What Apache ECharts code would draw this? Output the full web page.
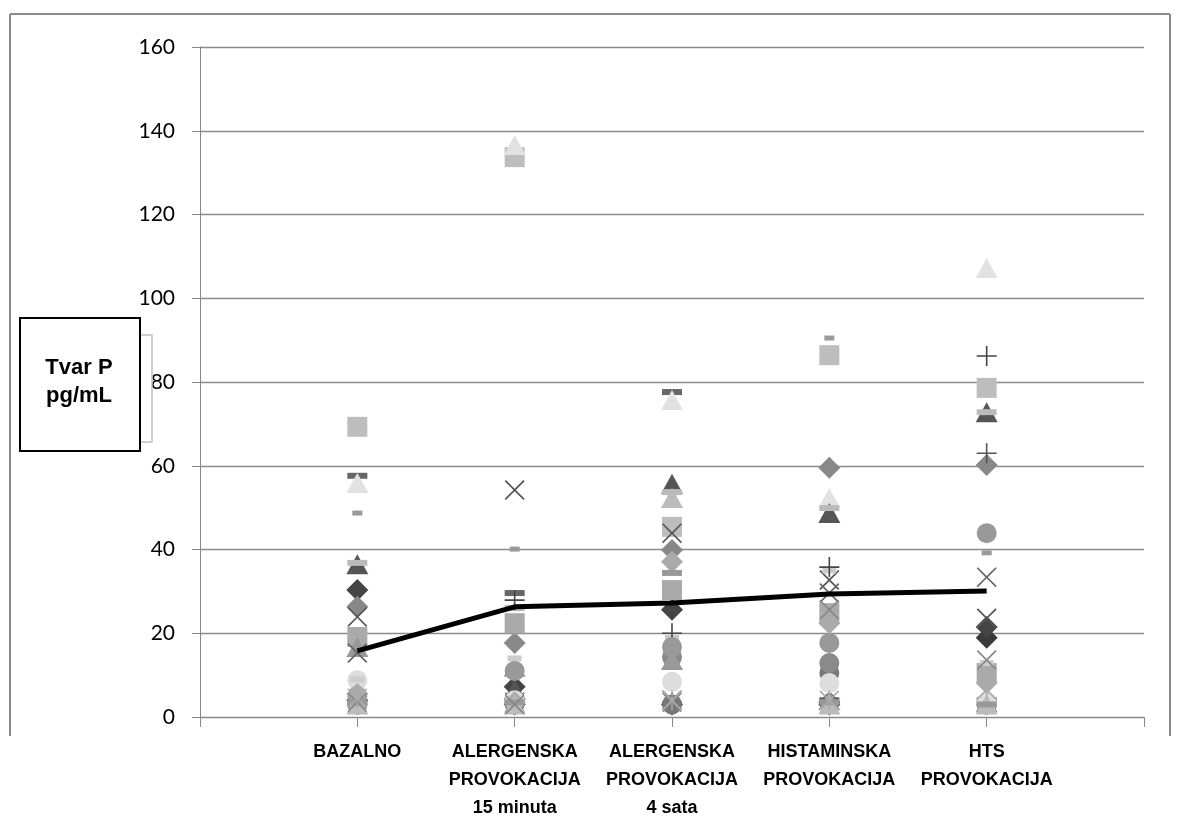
<!DOCTYPE html>
<html>
<head>
<meta charset="utf-8">
<script src="https://cdn.jsdelivr.net/npm/echarts@6/dist/echarts.min.js"></script>
<style>
html,body{margin:0;padding:0;background:#fff;}
#chart{width:1182px;height:817px;}
</style>
</head>
<body>
<div id="chart"></div>
<script>
// ---- data ----
const categories = ['BAZALNO', 'ALERGENSKA\nPROVOKACIJA\n15 minuta', 'ALERGENSKA\nPROVOKACIJA\n4 sata', 'HISTAMINSKA\nPROVOKACIJA', 'HTS\nPROVOKACIJA'];
const yAxisTitle = 'Tvar P\npg/mL';
// per-subject values: [BAZALNO, ALERG 15 min, ALERG 4 sata, HISTAMINSKA, HTS]
const p01 = [69.3, 133.7, 45.4, 86.4, 78.6];
const p02 = [55.9, 136.6, 75.7, 52.3, 107.2];
const p03 = [57.6, 29.6, 77.6, 4.0, 4.0];
const p04 = [48.7, 40.1, 4.0, 90.5, 39.2];
const p05 = [36.5, 6.5, 55.7, 48.7, 72.8];
const p06 = [36.8, 26.0, 53.7, 49.9, 72.8];
const p07 = [30.3, 7.2, 25.6, 3.5, 21.5];
const p08 = [26.3, 17.7, 39.9, 59.5, 60.2];
const p09 = [23.9, 54.2, 43.9, 32.7, 23.6];
const p10 = [19.1, 22.4, 30.3, 24.8, 10.5];
const p11 = [16.7, 12.0, 13.6, 4.0, 3.5];
const p12 = [15.3, 3.5, 4.0, 29.6, 33.4];
const p13 = [8.8, 4.0, 8.4, 8.1, 3.5];
const p14 = [9.0, 14.0, 18.9, 35.0, 12.9];
const p15 = [4.0, 27.9, 20.0, 35.8, 86.2];
const p16 = [4.5, 22.0, 4.0, 4.0, 6.5];
const p17 = [5.0, 11.0, 16.7, 17.7, 43.9];
const p18 = [5.5, 3.5, 37.1, 22.4, 8.1];
const p19 = [3.5, 3.0, 3.5, 25.6, 13.6];
const p20 = [3.0, 3.0, 14.3, 12.9, 3.0];
const p21 = [3.5, 3.5, 34.4, 3.5, 3.0];
const p22 = [3.5, 3.0, 3.5, 3.0, 63.0];
const p23 = [3.0, 3.5, 3.0, 10.5, 3.0];
const p24 = [4.0, 3.0, 3.0, 3.0, 18.9];
const p25 = [3.0, 3.0, 52.3, 3.0, 3.0];
const meanValues = [15.8, 26.3, 27.2, 29.4, 30.1];

// ---- styles ----
const X = 'path://M0,1.2 L1.2,0 L10,8.8 L18.8,0 L20,1.2 L11.2,10 L20,18.8 L18.8,20 L10,11.2 L1.2,20 L0,18.8 L8.8,10 Z';
const PLUS = 'path://M9.2,0 H10.8 V9.2 H20 V10.8 H10.8 V20 H9.2 V10.8 H0 V9.2 H9.2 Z';
const STAR = 'path://M0,1.2 L1.2,0 L10,8.8 L18.8,0 L20,1.2 L11.2,10 L20,18.8 L18.8,20 L10,11.2 L1.2,20 L0,18.8 L8.8,10 Z M9.3,0 H10.7 V8.6 L10,9.3 L9.3,8.6 Z M9.3,11.4 L10,10.7 L10.7,11.4 V20 H9.3 Z';
const styles = [
  [p24, 'diamond', 22, '#3a3a3a'],
  [p07, 'diamond', 22, '#444444'],
  [p03, 'rect', [20, 6], '#666666'],
  [p01, 'rect', 20, '#bdbdbd'],
  [p02, 'triangle', [22, 20], '#e2e2e2'],
  [p04, 'rect', [10, 5], '#9a9a9a'],
  [p05, 'triangle', [22, 20], '#555555'],
  [p06, 'rect', [20, 6], '#bbbbbb'],
  [p08, 'diamond', 22, '#888888'],
  [p09, X, 20, '#555555'],
  [p22, PLUS, 20, '#555555'],
  [p23, 'circle', 20, '#777777'],
  [p20, 'circle', 20, '#8a8a8a'],
  [p10, 'rect', 20, '#aaaaaa'],
  [p11, 'triangle', [22, 20], '#999999'],
  [p12, X, 20, '#666666'],
  [p13, 'circle', 20, '#dddddd'],
  [p14, 'rect', [14, 6], '#cccccc'],
  [p15, PLUS, 20, '#444444'],
  [p17, 'circle', 20, '#999999'],
  [p18, 'diamond', 22, '#aaaaaa'],
  [p25, 'triangle', [22, 20], '#bbbbbb'],
  [p21, 'rect', [20, 6], '#999999'],
  [p19, X, 20, '#888888'],
  [p16, STAR, 20, '#aaaaaa']
];

const series = styles.map(function (s, i) {
  return {
    type: 'scatter',
    name: 'S' + (i + 1),
    symbol: s[1],
    symbolSize: s[2],
    itemStyle: { color: s[3], opacity: 1 },
    data: s[0].map(function (v, j) { return [j + 1, v]; }),
    z: 2
  };
});
series.push({
  type: 'line',
  name: 'mean',
  data: meanValues.map(function (v, j) { return [j + 1, v]; }),
  showSymbol: false,
  symbol: 'none',
  lineStyle: { color: '#000', width: 5 },
  z: 5
});

const chart = echarts.init(document.getElementById('chart'));
chart.setOption({
  animation: false,
  backgroundColor: '#fff',
  grid: { left: 200, right: 38, top: 47, bottom: 100, containLabel: false, outerBoundsMode: 'none' },
  xAxis: {
    type: 'value', min: 0, max: 6, interval: 1,
    axisLine: { show: true, lineStyle: { color: '#888', width: 1 } },
    axisTick: { show: true, length: 10, lineStyle: { color: '#888' } },
    splitLine: { show: false },
    axisLabel: {
      margin: 21,
      formatter: function (v) { return (v >= 1 && v <= 5) ? categories[v - 1] : ''; },
      fontFamily: 'Liberation Sans', fontWeight: 'bold', fontSize: 18, color: '#000',
      lineHeight: 28, align: 'center'
    }
  },
  yAxis: {
    type: 'value', min: 0, max: 160, interval: 20,
    axisLine: { show: true, lineStyle: { color: '#888', width: 1 } },
    axisTick: { show: true, length: 8, lineStyle: { color: '#888' } },
    splitLine: { show: true, lineStyle: { color: '#8a8a8a', width: 1.3 } },
    axisLabel: { margin: 25, fontFamily: 'Lato', fontSize: 21, color: '#000' }
  },
  graphic: [
    { type: 'line', shape: { x1: 10, y1: 14, x2: 1170, y2: 14 }, style: { stroke: '#8a8a8a', lineWidth: 2 }, z: 10 },
    { type: 'line', shape: { x1: 10, y1: 14, x2: 10, y2: 736 }, style: { stroke: '#8a8a8a', lineWidth: 2 }, z: 10 },
    { type: 'line', shape: { x1: 1170, y1: 14, x2: 1170, y2: 736 }, style: { stroke: '#8a8a8a', lineWidth: 2 }, z: 10 },
    { type: 'rect', shape: { x: 100, y: 335, width: 52, height: 107 }, style: { fill: '#fff', stroke: '#c0c0c0', lineWidth: 1.5 }, z: 20 },
    { type: 'rect', shape: { x: 20, y: 318, width: 120, height: 133 }, style: { fill: '#fff', stroke: '#000', lineWidth: 2 }, z: 21 },
    { type: 'text', x: 79, y: 382, style: { text: yAxisTitle, fontFamily: 'Liberation Sans', fontWeight: 'bold', fontSize: 22, lineHeight: 28, fill: '#000', align: 'center', verticalAlign: 'middle' }, z: 22 }
  ],
  series: series
});
</script>
</body>
</html>
